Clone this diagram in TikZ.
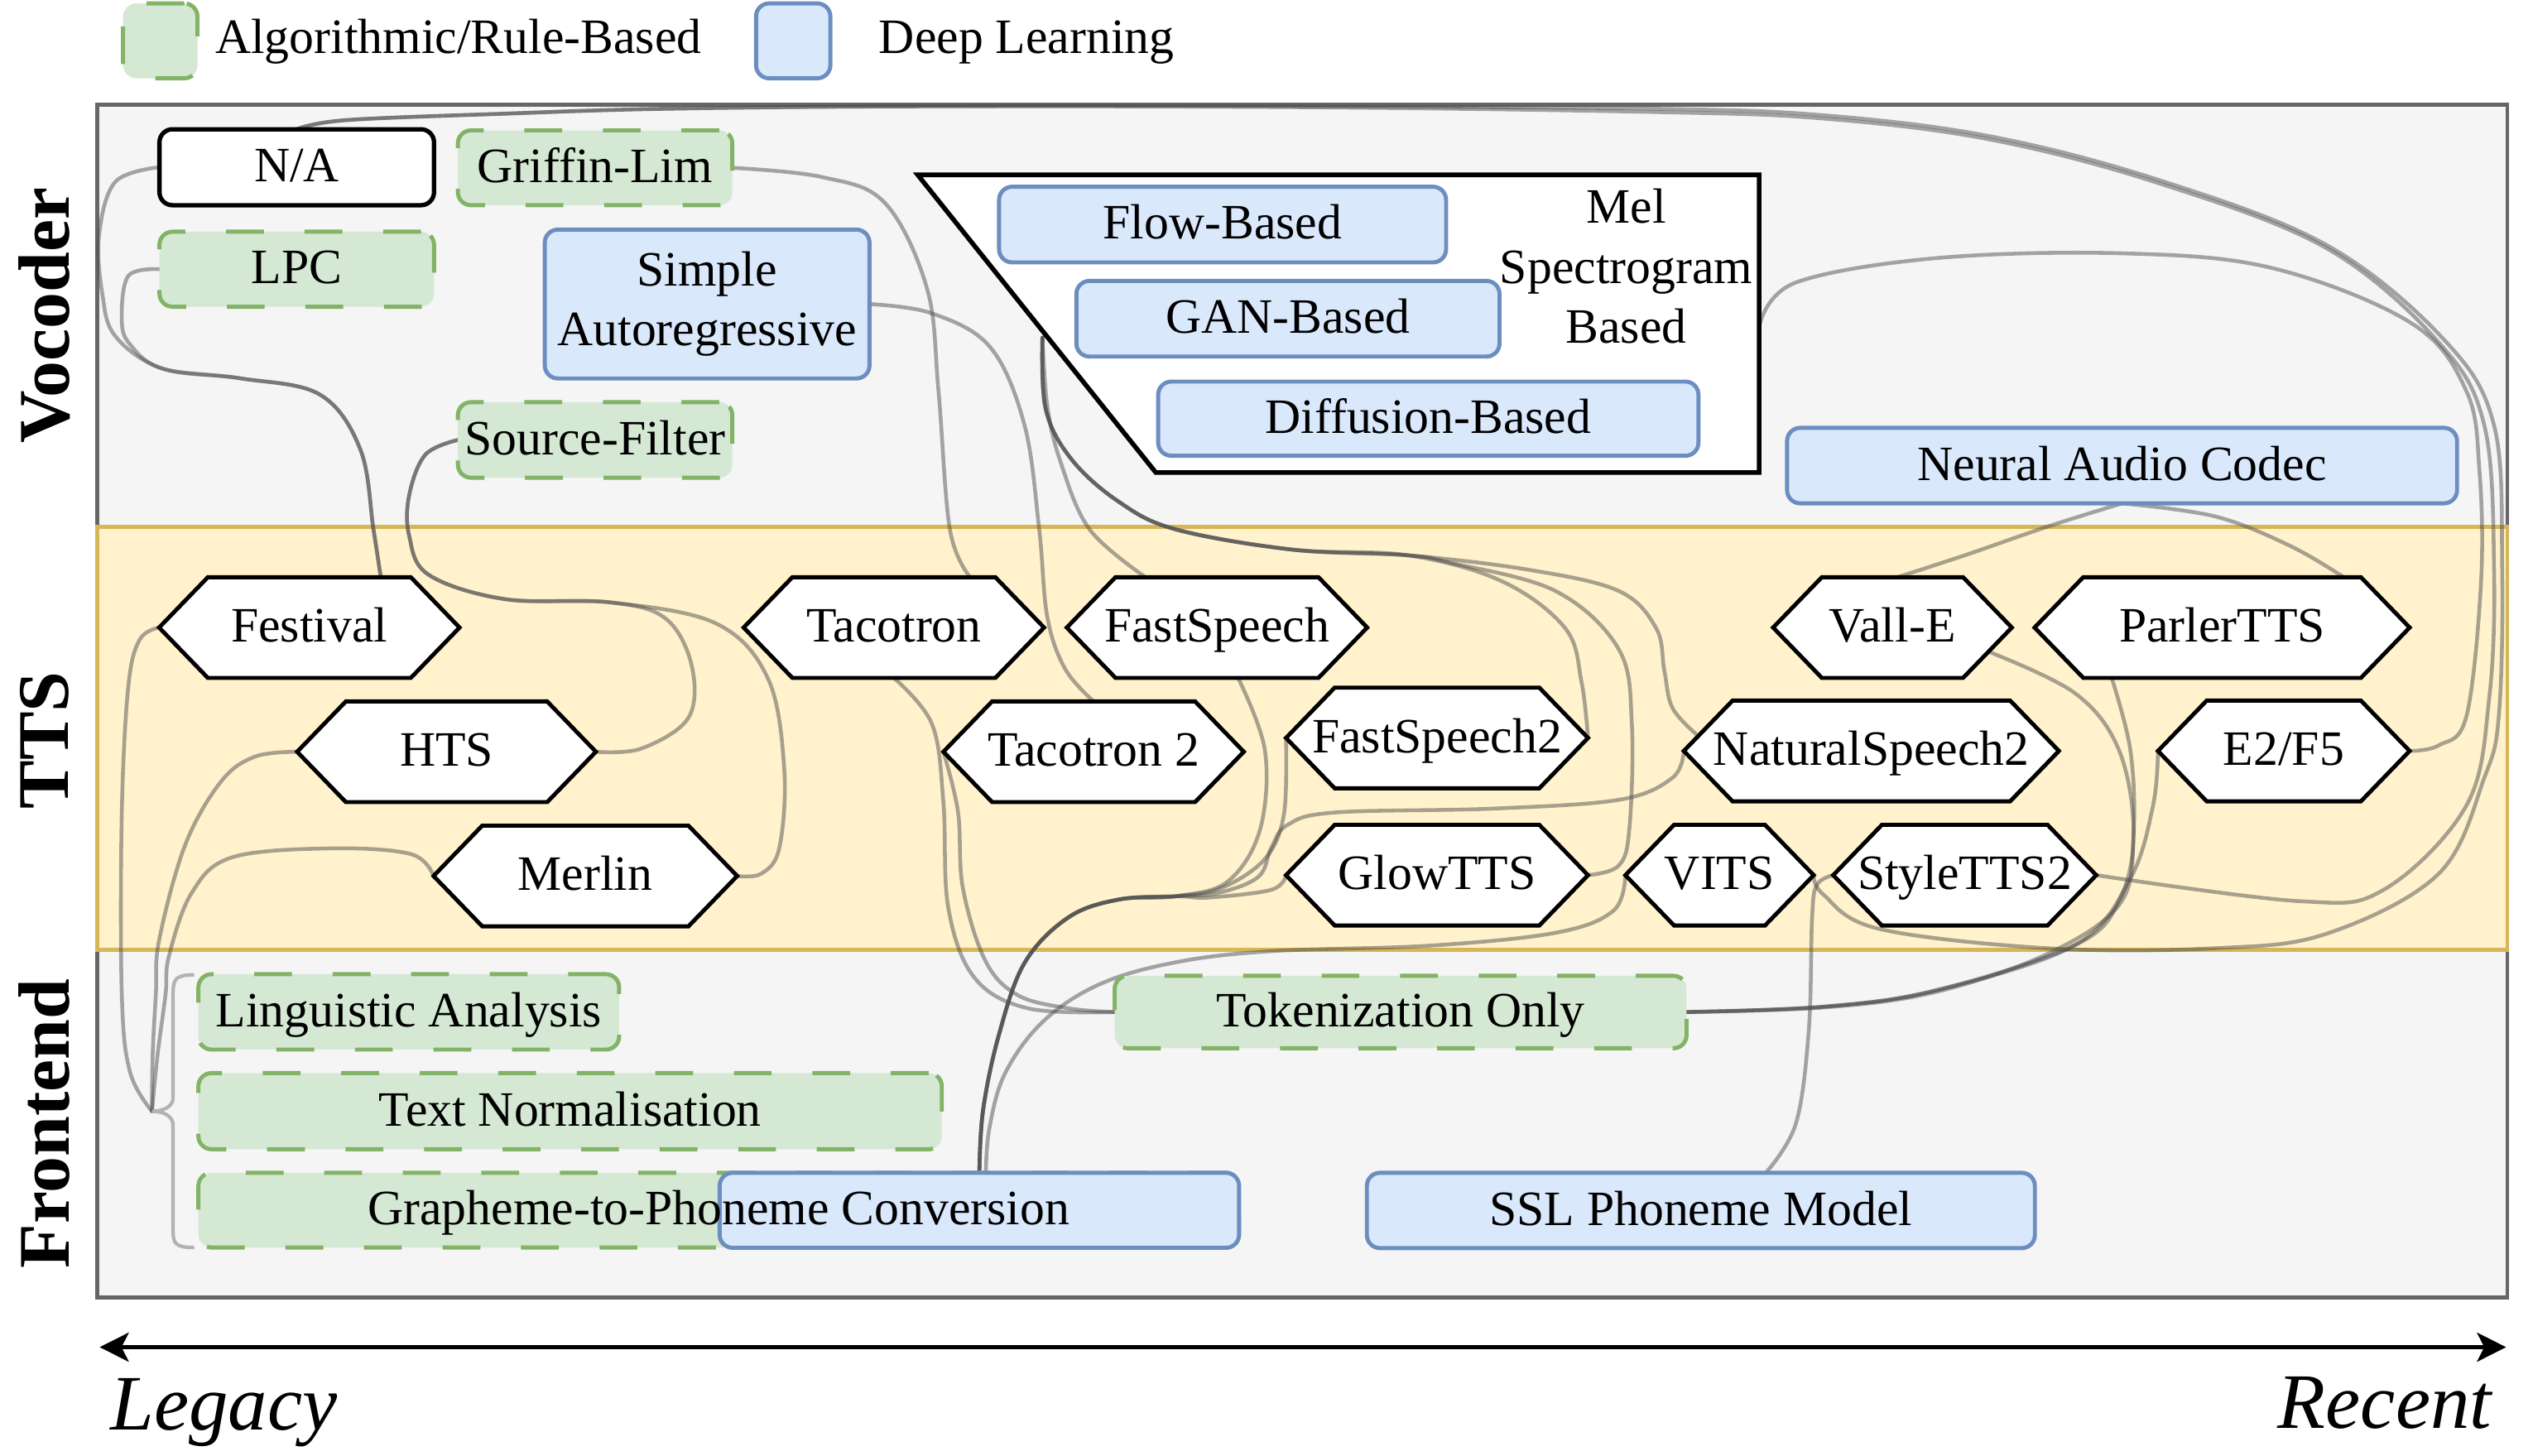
\documentclass[tikz,border=0pt]{standalone}
\usepackage{fontspec}
\setmainfont{Liberation Serif}
\usetikzlibrary{calc,fit,arrows.meta}
\definecolor{frfill}{HTML}{F5F5F5}
\definecolor{frline}{HTML}{666666}
\definecolor{ttsfill}{HTML}{FFF2CC}
\definecolor{ttsline}{HTML}{D6B656}
\definecolor{gfill}{HTML}{D5E8D4}
\definecolor{gline}{HTML}{82B366}
\definecolor{bfill}{HTML}{DAE8FC}
\definecolor{bline}{HTML}{6C8EBF}
\definecolor{cline}{HTML}{505050}
\definecolor{braceline}{HTML}{B3B3B3}
\pgfdeclarelayer{bg}\pgfdeclarelayer{mid}
\pgfsetlayers{bg,mid,main}
\newcommand\nfont{\fontsize{17}{20.6}\selectfont}
\newcommand\hexa[5]{%
  \node[fit={(#2,#4-31) (#3,#4+31)}, inner sep=0pt, outer sep=0pt] (#1) {};
  \draw[hexline] (#1.west) -- ($(#1.north west)+(30,0)$) -- ($(#1.north east)+(-30,0)$) -- (#1.east) -- ($(#1.south east)+(-30,0)$) -- ($(#1.south west)+(30,0)$) -- cycle;
  \node[txt, anchor=base] at ($(#1.center)+(0,9)$) {#5};
}
\newcommand\rbox[7]{%
  \node[#1, fit={(#3,#4) (#5,#6)}, inner sep=0pt, outer sep=0pt] (#2) {};
  \node[txt, anchor=base] at ($(#2.center)+(0,9)$) {#7};
}
\tikzset{
  txt/.style={font=\nfont, inner sep=0pt},
  gbox/.style={draw=gline, fill=gfill, line width=1.4pt, dash pattern=on 13pt off 14pt, rounded corners=4.5pt},
  bbox/.style={draw=bline, fill=bfill, line width=1.4pt, rounded corners=4.5pt},
  wbox/.style={draw=black, fill=white, line width=1.5pt, rounded corners=4.5pt},
  hexline/.style={draw=black, fill=white, line width=1.4pt, line join=miter},
  conn/.style={draw=cline, line width=1.3pt, opacity=0.5, line cap=round},
  lane/.style={font=\fontsize{25}{30}\selectfont\bfseries, rotate=90, inner sep=0pt},
  axislabel/.style={font=\fontsize{27}{32}\selectfont\itshape, inner sep=0pt},
}
\begin{document}
\begin{tikzpicture}[x=0.0196154cm, y=-0.0196154cm]
\useasboundingbox (0,0) rectangle (1560,896.24);

\begin{pgfonlayer}{bg}
  \draw[fill=frfill, draw=frline, line width=1.3pt] (60,64.5) rectangle (1544.2,799);
  \draw[fill=ttsfill, draw=ttsline, line width=1.3pt] (60,324.5) rectangle (1544.2,585);
\end{pgfonlayer}

% legend
\node[gbox, fit={(75.8,2.1) (121.6,48.2)}, inner sep=0pt] (leg1) {};
\node[txt, anchor=base west] (leg1t) at (132.3,32.8) {Algorithmic/Rule-Based};
\node[bbox, fit={(465.6,2.1) (511.4,48.2)}, inner sep=0pt] (leg2) {};
\node[txt, anchor=base west] (leg2t) at (541,32.8) {Deep Learning};

% lane labels
\node[lane] (lvoc) at (27.4,194.4) {Vocoder};
\node[lane] (ltts) at (27.4,456) {TTS};
\node[lane] (lfront) at (27.4,692) {Frontend};

% vocoder lane
\rbox{wbox}{na}{98.2}{79.6}{267.3}{126.4}{N/A}
\rbox{gbox}{gl}{282}{80.3}{451}{126.4}{Griffin-Lim}
\rbox{gbox}{lpc}{98.2}{142.7}{267.3}{188.9}{LPC}
\node[bbox, fit={(335.5,141.4) (535.5,233.1)}, inner sep=0pt, outer sep=0pt] (sa) {};
\node[txt, align=center] at (sa.center) {Simple\\Autoregressive};
\rbox{gbox}{sf}{282}{247.7}{451}{294.2}{Source-Filter}

\draw[fill=white, draw=black, line width=1.6pt, line join=miter] (565.2,107.7) -- (1083.4,107.7) -- (1083.4,291) -- (711.8,291) -- cycle;
\node[txt, align=center] (meltxt) at (1001.5,164) {Mel\\Spectrogram\\Based};
\rbox{bbox}{flow}{615.3}{115}{890.6}{161.6}{Flow-Based}
\rbox{bbox}{gan}{662.9}{173}{923.5}{219.6}{GAN-Based}
\rbox{bbox}{diff}{713.3}{235}{1046}{280.7}{Diffusion-Based}
\rbox{bbox}{nac}{1100.6}{263.5}{1513.2}{310}{Neural Audio Codec}
\coordinate (melL) at (642,208);
\coordinate (melR) at (1084,199);

% TTS lane
\hexa{fest}{98}{283}{386.5}{Festival}
\hexa{tac}{458}{643}{386.5}{Tacotron}
\hexa{fs}{657}{842}{386.5}{FastSpeech}
\hexa{valle}{1092}{1239}{386.5}{Vall-E}
\hexa{parler}{1253}{1484}{386.5}{ParlerTTS}
\hexa{hts}{183}{367}{463}{HTS}
\hexa{t2}{581}{766}{463}{Tacotron 2}
\hexa{fs2}{792}{978}{454.5}{FastSpeech2}
\hexa{ns2}{1037}{1268}{462.5}{NaturalSpeech2}
\hexa{e2}{1329}{1484}{462.5}{E2/F5}
\hexa{merlin}{267}{454}{539.5}{Merlin}
\hexa{glow}{792}{978}{539}{GlowTTS}
\hexa{vits}{1001}{1117}{539}{VITS}
\hexa{sty}{1129}{1291}{539}{StyleTTS2}

% frontend lane
\rbox{gbox}{ling}{122.2}{600}{381.3}{646.4}{Linguistic Analysis}
\rbox{gbox}{norm}{122.2}{660.9}{580}{707.8}{Text Normalisation}
\node[gbox, fit={(122.2,722.3) (763,768.3)}, inner sep=0pt, outer sep=0pt] (g2pg) {};
\node[bbox, fit={(443.2,722.3) (763.1,768.5)}, inner sep=0pt, outer sep=0pt] (g2pb) {};
\node[txt, anchor=base] (g2pt) at (442.6,754.3) {Grapheme-to-Phoneme Conversion};
\rbox{gbox}{tok}{686.5}{601}{1038.7}{645.6}{Tokenization Only}
\rbox{bbox}{ssl}{841.8}{722.3}{1253.2}{768.7}{SSL Phoneme Model}
\coordinate (brace) at (93.6,684.4);
\draw[draw=braceline, line width=1.2pt] (119.6,600.4) .. controls (108,600.4) and (106.6,603) .. (106.6,612) -- (106.6,676) .. controls (106.6,682) and (100,684.4) .. (brace) .. controls (100,684.4) and (106.6,687) .. (106.6,693) -- (106.6,758) .. controls (106.6,766) and (108,768.3) .. (119.6,768.3);

% axis
\coordinate (axL) at (61.4,829.7);
\coordinate (axR) at (1543.4,829.7);
\draw[line width=1.2pt, {Stealth[length=10pt,width=10pt,inset=2.5pt]}-{Stealth[length=10pt,width=10pt,inset=2.5pt]}] (axL) -- (axR);
\node[axislabel, anchor=base west] (legacy) at (67.6,880.6) {Legacy};
\node[axislabel, anchor=base east] (recent) at (1534.8,879.5) {Recent};

\begin{pgfonlayer}{mid}
% vocoder -> TTS
\draw[conn] plot[smooth, tension=0.6] coordinates {(na.west) (71,112) (61,145) (63,181) (71,207) (100,227) (148,233) (197,243) (222,277) (230,326) ($(fest.north)+(44,0)$)};
\draw[conn] plot[smooth, tension=0.6] coordinates {(lpc.west) (79,170) (75,197) (80,212) (100,227) (148,233) (197,243) (222,277) (230,326) ($(fest.north)+(44,0)$)};
\draw[conn] plot[smooth, tension=0.6] coordinates {(sf.west) (262,280) (252,305) (252,330) (264,354) (311,369) (376,371) (410,381) (426,410) (424,442) (395,461) (hts.east)};
\draw[conn] plot[smooth, tension=0.6] coordinates {(sf.west) (262,280) (252,305) (252,330) (264,354) (311,369) (376,371) (441,384) (473,418) (483,474) (480,522) (469,538) (merlin.east)};
\draw[conn] plot[smooth, tension=0.6] coordinates {(gl.east) (506,109) (545,125) (571,178) (578,241) (585,326) ($(tac.north)+(47,0)$)};
\draw[conn] plot[smooth, tension=0.6] coordinates {(sa.east) (574,193) (610,214) (631,262) (640,326) (645,380) (656,412) (t2.north)};
\draw[conn] plot[smooth, tension=0.6] coordinates {(melL) (645,250) (653,284) (671,326) ($(fs.north)+(-44,0)$)};
\draw[conn] plot[smooth, tension=0.6] coordinates {(melL) (644,252) (660,283) (689,309) (724,326) (796,338.5) (867,342) (925,358) (964,387) (974,420) (fs2.east)};
\draw[conn] plot[smooth, tension=0.6] coordinates {(melL) (644,252) (660,283) (689,309) (724,326) (796,338.5) (867,342) (893,346.5) (958,364) (997,400) (1005,446) (1003.5,510) (997,533) (glow.east)};
\draw[conn] plot[smooth, tension=0.6] coordinates {(melL) (644,252) (660,283) (689,309) (724,326) (796,338.5) (867,342) (942,351) (997,364) (1020,387) (1025,413) (1030,436) ($(ns2.west)+(8,-10)$)};
\draw[conn] plot[smooth, tension=0.6] coordinates {(melR) (1106,174) (1192,159) (1306,156) (1399,165) (1485,199) (1519,241) (1527,290) (1528,358) (1519,441) (1502,459) (e2.east)};
\draw[conn] plot[smooth, tension=0.6] coordinates {(nac.south) (1262,324) (1210,342) ($(valle.north)+(3,0)$)};
\draw[conn] plot[smooth, tension=0.6] coordinates {(nac.south) (1364,318) (1410,336) ($(parler.north)+(75,0)$)};
\draw[conn] plot[smooth, tension=0.6] coordinates {(na.north) (213,74) (311,70) (409,67) (561,65.5) (800,66) (1020,69) (1123,73) (1226,86) (1330,113) (1433,153) (1502,211) (1530,262) (1536,350) (1533,430) (1519,496) (1468,548) (1416,555) (sty.east)};
\draw[conn] plot[smooth, tension=0.6] coordinates {(na.north) (213,74) (311,70) (409,67) (561,65.5) (800,65.5) (1020,67) (1123,71) (1226,84) (1330,111) (1433,151) (1505,209) (1536,262) (1541,350) (1539,440) (1530,479) (1502,538) (1433,575) (1364,584) (1261,584) (1157,572) (1123,551) (vits.east)};
% TTS -> frontend
\draw[conn] plot[smooth, tension=0.6] coordinates {($(valle.east)+(-14,15)$) (1278,427) (1305,462) (1314,513) (1305,555) (1278,582) (1192,610) (1123,620) (tok.east)};
\draw[conn] plot[smooth, tension=0.6] coordinates {($(parler.south)+(-68,0)$) (1312,462) (1314,513) (1306,556) (1262,587) (1192,611) (1123,620.5) (tok.east)};
\draw[conn] plot[smooth, tension=0.6] coordinates {(e2.west) (1326,496) (1312,541) (1278,582) (1192,610) (1123,620) (tok.east)};
\draw[conn] plot[smooth, tension=0.6] coordinates {($(ssl.north)+(40,0)$) (1106,692) (1114,634) (1116,565) (1119,545) (sty.west)};
\draw[conn] plot[smooth, tension=0.6] coordinates {(tac.south) (574,446) (581,494) (584,559) (600,602) (633,621) (tok.west)};
\draw[conn] plot[smooth, tension=0.6] coordinates {(t2.west) (590,500) (593,547) (607,592) (627,613) (658,621) (tok.west)};
\draw[conn] plot[smooth, tension=0.6] coordinates {(g2pb.north) (605.4,684) (615,638) (631,593) (658,565) (689,554) (724,552) (756,543) (776,511) (779,462) ($(fs.south)+(13,0)$)};
\draw[conn] plot[smooth, tension=0.6] coordinates {(g2pb.north) (605.4,684) (615,638) (631,593) (658,565) (689,554) (724,552) (752,547) (779,529) (790.7,501.6) (fs2.west)};
\draw[conn] plot[smooth, tension=0.6] coordinates {(g2pb.north) (605.4,684) (615,638) (631,593) (658,565) (689,554) (724,552) (744,552.8) (783,548) (glow.west)};
\draw[conn] plot[smooth, tension=0.6] coordinates {(g2pb.north) (605.4,684) (615,638) (631,593) (658,565) (689,554) (724,552) (750,550) (775,540) (783,522) (793,508) (822,500.4) (919.5,498) (997.5,492.5) (1030,479) (ns2.west)};
\draw[conn] plot[smooth, tension=0.6] coordinates {($(g2pb.north)+(4,0)$) (609.3,695) (619,661) (642.5,629) (677.6,606) (724.4,592.6) (783,585.8) (880.5,582.4) (958.5,574.4) (993.7,560.8) (vits.west)};
\draw[conn] plot[smooth, tension=0.6] coordinates {(fest.west) (86,394) (79,423) (75,501) (75,612) (80,660) (brace)};
\draw[conn] plot[smooth, tension=0.6] coordinates {(hts.west) (157,466) (136,481.5) (114,520.5) (98,579) (96,612) (94,650) (brace)};
\draw[conn] plot[smooth, tension=0.6] coordinates {(merlin.west) (253,526) (204,522.5) (143,528) (118,550) (104,589) (102,612) (97,650) (brace)};
\end{pgfonlayer}
\end{tikzpicture}
\end{document}
